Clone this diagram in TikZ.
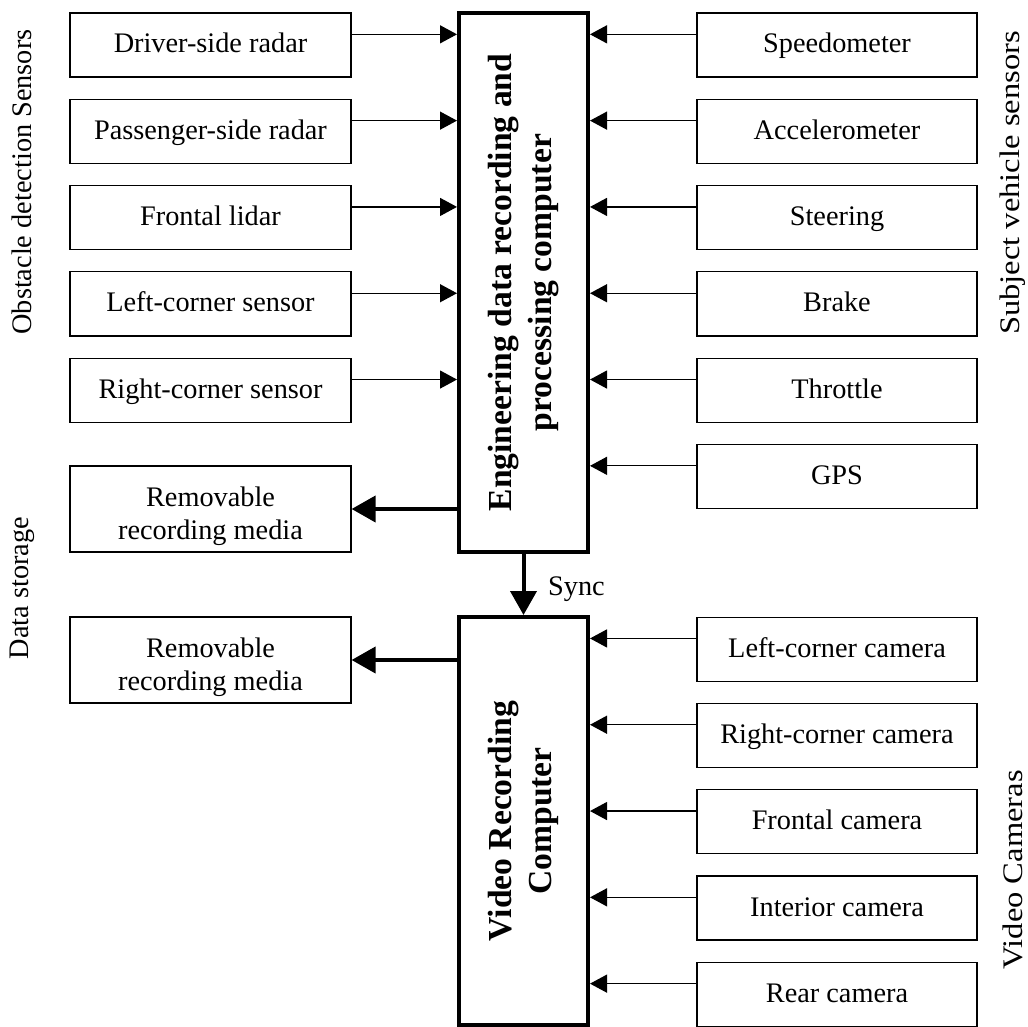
\documentclass[tikz,border=0pt]{standalone}
\usepackage{fontspec}
\setmainfont{Liberation Serif}
\usepackage{graphicx}
\usetikzlibrary{arrows.meta}

\begin{document}
\begin{tikzpicture}[x=0.5pt,y=-0.5pt,
  every node/.style={font=\fontsize{14.15}{16.5}\selectfont},
  sensor/.style={draw,line width=0.6pt,minimum width=140.5pt,minimum height=32pt,inner sep=2pt,text height=10pt,text depth=2pt},
  media/.style={draw,line width=0.6pt,minimum width=140.5pt,minimum height=43pt,inner sep=2pt},
  unit/.style={draw,line width=2pt,minimum width=64.5pt,inner sep=0pt,font=\fontsize{16.8}{20}\selectfont\bfseries},
  feed/.style={-{Triangle[length=8.5pt,width=9pt]},line width=0.65pt},
  store/.style={-{Triangle[length=12pt,width=13pt]},line width=2pt},
  group/.style={rotate=90,inner sep=0pt}]
\useasboundingbox (0,0) rectangle (1028,1027);
% central computers
\node[unit,minimum height=269.5pt] (eng) at (523.5,282.5) {\rotatebox{90}{\begin{tabular}{@{}c@{}}Engineering data recording and\\processing computer\end{tabular}}};
\node[unit,minimum height=204pt] (vid) at (523.5,821) {\rotatebox{90}{\begin{tabular}{@{}c@{}}Video Recording\\Computer\end{tabular}}};
% obstacle detection sensors
\node[sensor] (drv) at (210.5,45) {Driver-side radar};
\node[sensor] (pas) at (210.5,131.3) {Passenger-side radar};
\node[sensor] (lid) at (210.5,217.6) {Frontal lidar};
\node[sensor] (lcs) at (210.5,303.9) {Left-corner sensor};
\node[sensor] (rcs) at (210.5,390.2) {Right-corner sensor};
% data storage
\node[media] (med1) at (210.5,509) {\raisebox{-3.5pt}[\height][\depth]{\begin{tabular}{@{}c@{}}Removable\\recording media\end{tabular}}};
\node[media] (med2) at (210.5,660) {\raisebox{-3.5pt}[\height][\depth]{\begin{tabular}{@{}c@{}}Removable\\recording media\end{tabular}}};
% subject vehicle sensors
\node[sensor,minimum width=140pt] (spd) at (837,45) {Speedometer};
\node[sensor,minimum width=140pt] (acc) at (837,131.3) {Accelerometer};
\node[sensor,minimum width=140pt] (ste) at (837,217.6) {Steering};
\node[sensor,minimum width=140pt] (brk) at (837,303.9) {Brake};
\node[sensor,minimum width=140pt] (thr) at (837,390.2) {Throttle};
\node[sensor,minimum width=140pt] (gps) at (837,476.5) {GPS};
% video cameras
\node[sensor,minimum width=140pt] (lcc) at (837,649.1) {Left-corner camera};
\node[sensor,minimum width=140pt] (rcc) at (837,735.4) {Right-corner camera};
\node[sensor,minimum width=140pt] (frc) at (837,821.7) {Frontal camera};
\node[sensor,minimum width=140pt] (inc) at (837,908) {Interior camera};
\node[sensor,minimum width=140pt] (rec) at (837,994.3) {Rear camera};
% group labels
\node[group] (obst) at (22,182) {Obstacle detection Sensors};
\node[group] (stor) at (22,588) {Data storage};
\node[group] (subj) at (1013,183) {\scalebox{1.15}[1]{Subject vehicle sensors}};
\node[group] (cams) at (1013,870) {\scalebox{1.15}[1]{Video Cameras}};
% inputs to the engineering computer
\draw[feed] ([yshift=5.33pt]drv.east) coordinate (p) -- (p -| eng.west);
\draw[feed] ([yshift=5.33pt]pas.east) coordinate (p) -- (p -| eng.west);
\draw[feed] ([yshift=5.33pt]lid.east) coordinate (p) -- (p -| eng.west);
\draw[feed] ([yshift=5.33pt]lcs.east) coordinate (p) -- (p -| eng.west);
\draw[feed] ([yshift=5.33pt]rcs.east) coordinate (p) -- (p -| eng.west);
\draw[feed] ([yshift=5.33pt]spd.west) coordinate (p) -- (p -| eng.east);
\draw[feed] ([yshift=5.33pt]acc.west) coordinate (p) -- (p -| eng.east);
\draw[feed] ([yshift=5.33pt]ste.west) coordinate (p) -- (p -| eng.east);
\draw[feed] ([yshift=5.33pt]brk.west) coordinate (p) -- (p -| eng.east);
\draw[feed] ([yshift=5.33pt]thr.west) coordinate (p) -- (p -| eng.east);
\draw[feed] ([yshift=5.33pt]gps.west) coordinate (p) -- (p -| eng.east);
% inputs to the video computer
\draw[feed] ([yshift=5.33pt]lcc.west) coordinate (p) -- (p -| vid.east);
\draw[feed] ([yshift=5.33pt]rcc.west) coordinate (p) -- (p -| vid.east);
\draw[feed] ([yshift=5.33pt]frc.west) coordinate (p) -- (p -| vid.east);
\draw[feed] ([yshift=5.33pt]inc.west) coordinate (p) -- (p -| vid.east);
\draw[feed] ([yshift=5.33pt]rec.west) coordinate (p) -- (p -| vid.east);
% recording and sync
\draw[store] (eng.west |- med1.east) -- (med1.east);
\draw[store] (vid.west |- med2.east) -- (med2.east);
\draw[store] (eng) -- (vid) node[midway,right=8pt,yshift=-2.5pt] {Sync};
\end{tikzpicture}
\end{document}
